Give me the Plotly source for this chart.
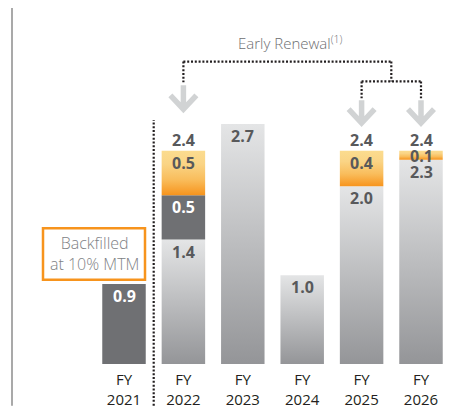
import plotly.graph_objects as go

# ---- data ----
years = ["2021", "2022", "2023", "2024", "2025", "2026"]
light_vals = [0.0, 1.4, 2.7, 1.0, 2.0, 2.3]     # grey gradient segment (bottom)
dark_vals = [0.9, 0.5, 0.0, 0.0, 0.0, 0.0]      # dark grey segment
orange_vals = [0.0, 0.5, 0.0, 0.0, 0.4, 0.1]    # early renewal segment (top)
totals = [None, 2.4, None, None, 2.4, 2.4]
tick_labels = ["FY<br>" + y for y in years]
backfill_text = "Backfilled<br>at 10% MTM"
renewal_text = "Early Renewal<sup>(1)</sup>"
renewal_from = 1
renewal_to = [4, 5]

# ---- layout constants (page body has an 8px margin) ----
OFF = 8
W, H = 464 - OFF, 409 - OFF
BASE_PX = 367          # reference pixel row of the bars' base
MB = (409 - BASE_PX)   # bottom margin
PX_X = 59.4            # px per category
PX_Y = 89.6            # px per unit
XR0 = -(124 - OFF) / PX_X
XR1 = XR0 + W / PX_X
YR1 = (BASE_PX - OFF) / PX_Y
HALF = 0.366

def px2x(p):
    return (p - 124) / PX_X

def px2y(p):
    return (BASE_PX - p) / PX_Y

def yp(p):  # reference pixel -> paper y
    return (BASE_PX - p) / (BASE_PX - OFF)

def xpp(p):
    return (p - OFF) / W

LIGHT_CS = [[0, "#949598"], [1, "#e4e5e6"]]
ORANGE_CS = [[0, "#f7941d"], [0.35, "#f9bd5c"], [0.7, "#fad485"], [1, "#fbdc8f"]]
DARK = "#6f7073"
TXT = "#58595b"
FONT = "Open Sans"

fig = go.Figure()
annotations = []

def seg(i, b, t, cs=None, color=None):
    kw = dict(x=[i - HALF, i + HALF, i + HALF, i - HALF, i - HALF],
              y=[b, b, t, t, b], mode="lines", fill="toself",
              line=dict(width=0, color="rgba(0,0,0,0)"), hoverinfo="skip",
              showlegend=False)
    if cs is not None:
        kw["fillgradient"] = dict(type="vertical", colorscale=cs)
    else:
        kw["fillcolor"] = color
    fig.add_trace(go.Scatter(**kw))

for i in range(len(years)):
    base = 0.0
    for vals, cs, col, tcol in [(light_vals, LIGHT_CS, None, TXT),
                                (dark_vals, None, DARK, "white"),
                                (orange_vals, ORANGE_CS, None, TXT)]:
        v = vals[i]
        if v > 0:
            seg(i, base, base + v, cs, col)
            shift = -12 if v * PX_Y > 20 else -5
            annotations.append(dict(x=i, y=base + v, xref="x", yref="y",
                                    text=f"<b>{v:.1f}</b>", showarrow=False,
                                    yshift=shift, yanchor="middle",
                                    font=dict(size=16, color=tcol, family=FONT)))
            base += v
    if totals[i] is not None:
        annotations.append(dict(x=i, y=totals[i], xref="x", yref="y",
                                text=f"<b>{totals[i]:.1f}</b>", showarrow=False,
                                yshift=11, yanchor="middle",
                                font=dict(size=16, color=TXT, family=FONT)))

shapes = []
DOT = dict(color="#231f20", width=2.2, dash="2px,1.8px")
# left grey rule
shapes.append(dict(type="line", xref="paper", yref="paper", x0=xpp(12), x1=xpp(12),
                   y0=yp(409), y1=1, line=dict(color="#8c8c8c", width=1.5)))
# dotted separator between FY2021 and FY2022
xs = (0.5 - XR0) / (XR1 - XR0)
shapes.append(dict(type="line", xref="paper", yref="paper", x0=xs, x1=xs,
                   y0=yp(409), y1=yp(121), line=DOT))
# bracket
mid = (renewal_to[0] + renewal_to[1]) / 2
y_top, y_mid, y_low = px2y(62), px2y(82), px2y(99)
shapes += [
    dict(type="line", x0=renewal_from, x1=mid, y0=y_top, y1=y_top, line=DOT),
    dict(type="line", x0=renewal_from, x1=renewal_from, y0=y_top, y1=px2y(83), line=DOT),
    dict(type="line", x0=mid, x1=mid, y0=y_top, y1=y_mid, line=DOT),
    dict(type="line", x0=renewal_to[0], x1=renewal_to[1], y0=y_mid, y1=y_mid, line=DOT),
    dict(type="line", x0=renewal_to[0], x1=renewal_to[0], y0=y_mid, y1=y_low, line=DOT),
    dict(type="line", x0=renewal_to[1], x1=renewal_to[1], y0=y_mid, y1=y_low, line=DOT),
]

def arrow(xc, top_px, arm_px, tip_px):
    hw = 13 / PX_X
    t, a, tp = px2y(top_px), px2y(arm_px), px2y(tip_px)
    path = f"M {xc},{t} L {xc},{tp} M {xc-hw},{a} L {xc},{tp} L {xc+hw},{a}"
    return dict(type="path", path=path, line=dict(color="#d1d3d4", width=5.5))

shapes.append(arrow(renewal_from, 86, 96, 110))
for j in renewal_to:
    shapes.append(arrow(j, 101, 110, 124))

# backfilled box
shapes.append(dict(type="rect", x0=px2x(43), x1=px2x(145), y0=px2y(282), y1=px2y(230),
                   line=dict(color="#f7941d", width=2.5), fillcolor="white"))
annotations.append(dict(x=px2x(94.5), y=px2y(256), text=backfill_text, showarrow=False,
                        font=dict(size=16, color="#808285", family=FONT, weight=300)))
annotations.append(dict(x=px2x(290), y=px2y(43), text=renewal_text, showarrow=False,
                        font=dict(size=15, color="#6d6e71", family=FONT, weight=300)))

fig.update_layout(
    width=W, height=H, margin=dict(l=0, r=0, t=0, b=MB),
    paper_bgcolor="white", plot_bgcolor="white",
    shapes=shapes, annotations=annotations, showlegend=False,
    xaxis=dict(range=[XR0, XR1], tickvals=list(range(len(years))), ticktext=tick_labels,
               showgrid=False, zeroline=False, showline=False, ticks="",
               ticklabelstandoff=5,
               tickfont=dict(size=15, color="#231f20", family=FONT),
               fixedrange=True),
    yaxis=dict(range=[0, YR1], visible=False, fixedrange=True),
)

fig.write_html("out.html")
